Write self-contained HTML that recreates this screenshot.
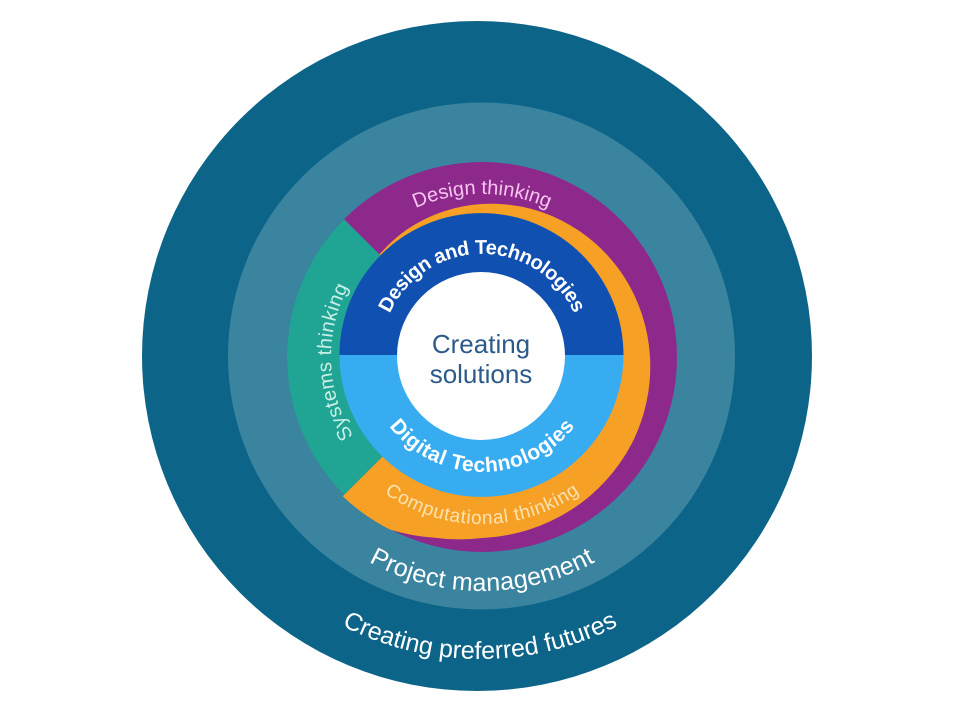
<!DOCTYPE html>
<html>
<head>
<meta charset="utf-8">
<style>
  html, body { margin: 0; padding: 0; background: #ffffff; }
  body { width: 960px; height: 720px; overflow: hidden; }
  svg { display: block; }
  text { font-family: "Liberation Sans", Arial, sans-serif; }
</style>
</head>
<body>
<svg width="960" height="720" viewBox="0 0 960 720" xmlns="http://www.w3.org/2000/svg">
  <defs>
    <path id="pDT" d="M384.4,328.9 A101,101 0 0 1 579.6,328.9"/>
    <path id="pDig" d="M369,385.3 A117,117 0 0 0 595,385.3"/>
    <path id="pDes" d="M328.8,301.3 A163,163 0 0 1 635.2,301.3"/>
    <path id="pComp" d="M352.5,463.6 A169,169 0 0 0 611.5,463.6"/>
    <path id="pSys" d="M395.4,480.7 A151,151 0 0 1 387,239.7"/>
    <path id="pProj" d="M278.5,473.5 A235,235 0 0 0 685.5,473.5"/>
    <path id="pFut" d="M217.6,507.5 A303,303 0 0 0 742.4,507.5"/>
  </defs>

  <rect width="960" height="720" fill="#ffffff"/>

  <!-- outer ring -->
  <circle cx="477" cy="356" r="335" fill="#0c6488"/>
  <!-- project management ring -->
  <circle cx="481.5" cy="356" r="253.5" fill="#3a84a0"/>
  <!-- purple ring -->
  <circle cx="482" cy="357" r="195" fill="#8e298c"/>
  <!-- orange spiral -->
  <path fill="#f7a026" d="M482,357 L379.5,254.5
    A146.5,146.5 0 0 1 408,228.8
    A149,149 0 0 1 443.0,211.6
    A152,152 0 0 1 482,204
    A154,154 0 0 1 522.2,206.8
    A157,157 0 0 1 561,220.2
    A159,159 0 0 1 595.5,243.5
    A162,162 0 0 1 623.2,275.5
    A164,164 0 0 1 641.9,314.2
    A167,167 0 0 1 650,357
    A169,169 0 0 1 646.7,401.1
    A172,172 0 0 1 631.8,443.5
    A174,174 0 0 1 605.7,480.7
    A176,176 0 0 1 570.5,510.3
    A178,178 0 0 1 528.3,529.9
    A180,180 0 0 1 482,538
    A184,184 0 0 1 433.6,537.6
    A190,190 0 0 1 390.2,529.6
    A196,196 0 0 1 342.7,496.3 Z"/>
  <!-- teal wedge -->
  <path fill="#20a494" d="M482,357 L344.1,494.9 A195,195 0 0 1 344.1,219.1 Z"/>
  <!-- blue disc halves -->
  <path fill="#1050b0" d="M339.5,355 A142,142 0 0 1 623.5,355 Z"/>
  <path fill="#38acf0" d="M339.5,355 A142,142 0 0 0 623.5,355 Z"/>
  <!-- white center -->
  <circle cx="481" cy="356" r="84" fill="#ffffff"/>

  <!-- center text -->
  <text x="481" y="353" text-anchor="middle" font-size="26" fill="#2c5a8a">Creating</text>
  <text x="481" y="383" text-anchor="middle" font-size="26" fill="#2c5a8a">solutions</text>

  <!-- ring texts -->
  <text font-size="20" font-weight="bold" fill="#ffffff">
    <textPath href="#pDT" startOffset="50%" text-anchor="middle" textLength="232" lengthAdjust="spacing">Design and Technologies</textPath>
  </text>
  <text font-size="21" font-weight="bold" fill="#ffffff">
    <textPath href="#pDig" startOffset="50%" text-anchor="middle" textLength="214" lengthAdjust="spacing">Digital Technologies</textPath>
  </text>
  <text font-size="20" fill="#f6c4ee">
    <textPath href="#pDes" startOffset="50%" text-anchor="middle">Design thinking</textPath>
  </text>
  <text font-size="19" fill="#fde3b0">
    <textPath href="#pComp" startOffset="50%" text-anchor="middle" textLength="208" lengthAdjust="spacing">Computational thinking</textPath>
  </text>
  <text font-size="20" fill="#c9efe6">
    <textPath href="#pSys" startOffset="50%" text-anchor="middle" textLength="156" lengthAdjust="spacing">Systems thinking</textPath>
  </text>
  <text font-size="25" fill="#ffffff">
    <textPath href="#pProj" startOffset="50%" text-anchor="middle" textLength="236" lengthAdjust="spacing">Project management</textPath>
  </text>
  <text font-size="25" fill="#ffffff">
    <textPath href="#pFut" startOffset="50%" text-anchor="middle" textLength="287" lengthAdjust="spacing">Creating preferred futures</textPath>
  </text>
</svg>
</body>
</html>
